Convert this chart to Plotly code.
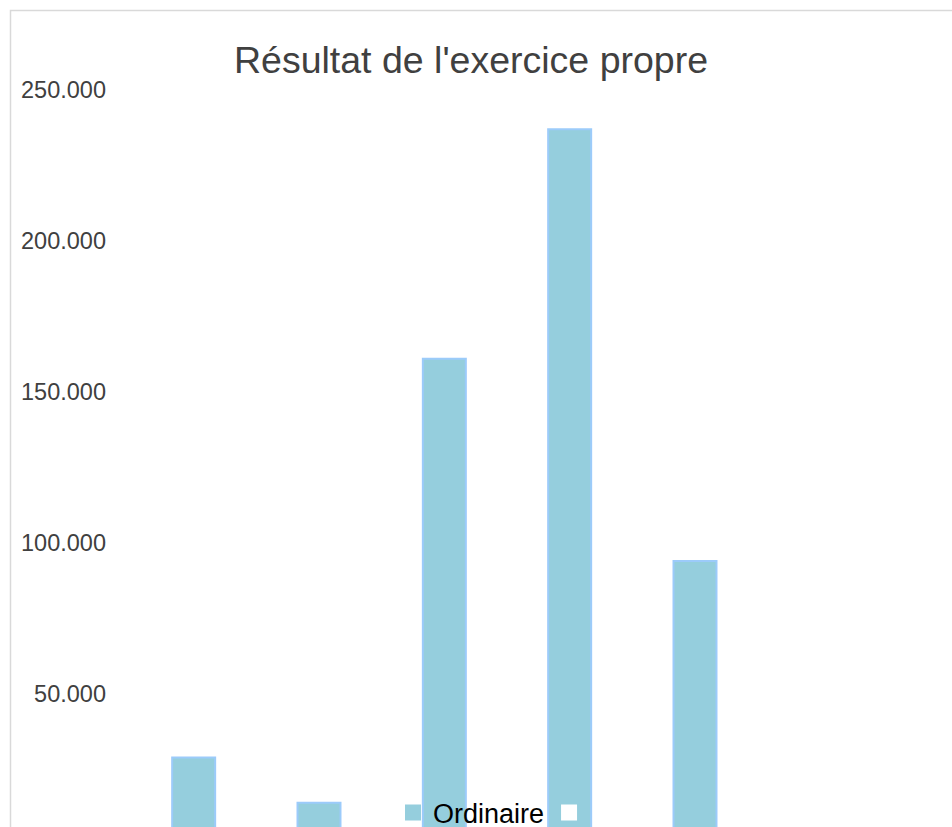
import plotly.graph_objects as go

# ---- data ----
categories = ["1", "2", "3", "4", "5", "6"]
ordinaire = [29000, 14000, 161000, 237000, 94000, None]
second_series = [None, None, None, None, None, None]
tick_vals = [50000, 100000, 150000, 200000, 250000]
tick_text = ["50.000", "100.000", "150.000", "200.000", "250.000"]
title_text = "Résultat de l'exercice propre"
series_names = ["Ordinaire", " "]

# ---- layout constants ----
W, H = 952, 827
ML, MR, MT, MB = 131, 69, 88, 0
plot_w = W - ML - MR
plot_h = H - MT - MB
px_per_val = 604 / 200000.0
y_top = 250000 + 2 / px_per_val
y_bot = y_top - plot_h / px_per_val

fill_col = "#95CEDD"
edge_col = "#9CCBFA"

fig = go.Figure()
fig.add_trace(go.Bar(
    x=categories, y=ordinaire, name=series_names[0], showlegend=False,
    marker=dict(color=fill_col, line=dict(color=edge_col, width=2)),
))
fig.add_trace(go.Bar(
    x=categories, y=second_series, name=series_names[1], showlegend=False,
    marker=dict(color="#FFFFFF", line=dict(color="#FFFFFF", width=1)),
))
# legend entries (square swatches)
fig.add_trace(go.Scatter(
    x=[None], y=[None], mode="markers", name=series_names[0],
    marker=dict(symbol="square", size=16, color=fill_col,
                line=dict(color=fill_col, width=0)),
))
fig.add_trace(go.Scatter(
    x=[None], y=[None], mode="markers", name=series_names[1],
    marker=dict(symbol="square", size=16, color="#FFFFFF",
                line=dict(color="#FFFFFF", width=0)),
))

# chart border (only left and top visible, rest cropped)
bx = (10.5 - ML) / plot_w
by = 1 + (MT - 10.5) / plot_h
fig.add_shape(type="rect", xref="paper", yref="paper",
              x0=bx, x1=1.5, y0=-0.5, y1=by,
              line=dict(color="#D9D9D9", width=1.5), fillcolor="rgba(0,0,0,0)",
              layer="below")

fig.update_layout(
    width=W, height=H,
    margin=dict(l=ML, r=MR, t=MT, b=MB, autoexpand=False),
    paper_bgcolor="white", plot_bgcolor="white",
    font=dict(family="Liberation Sans, Arial, sans-serif", color="#404040"),
    title=dict(text=title_text, x=471 / W, xanchor="center",
               y=1 - 60 / H, yanchor="middle",
               font=dict(size=37.5, color="#404040")),
    barmode="overlay", bargap=0.657,
    showlegend=True,
    legend=dict(orientation="h", x=(393 - ML) / plot_w, xanchor="left",
                y=(H - MB - 813) / plot_h, yanchor="middle",
                bgcolor="rgba(0,0,0,0)", font=dict(size=27, color="#000000"),
                itemsizing="trace"),
    xaxis=dict(showticklabels=False, showgrid=False, zeroline=False,
               showline=False, ticks="", fixedrange=True),
    yaxis=dict(range=[y_bot, y_top], tickvals=tick_vals, ticktext=tick_text,
               showgrid=False, zeroline=False, showline=False, ticks="",
               fixedrange=True,
               tickfont=dict(size=23.5, color="#404040"), ticklabelstandoff=24),
)

fig.write_html("out.html", config={"displayModeBar": False},
               post_script="document.body.style.margin='0';")
